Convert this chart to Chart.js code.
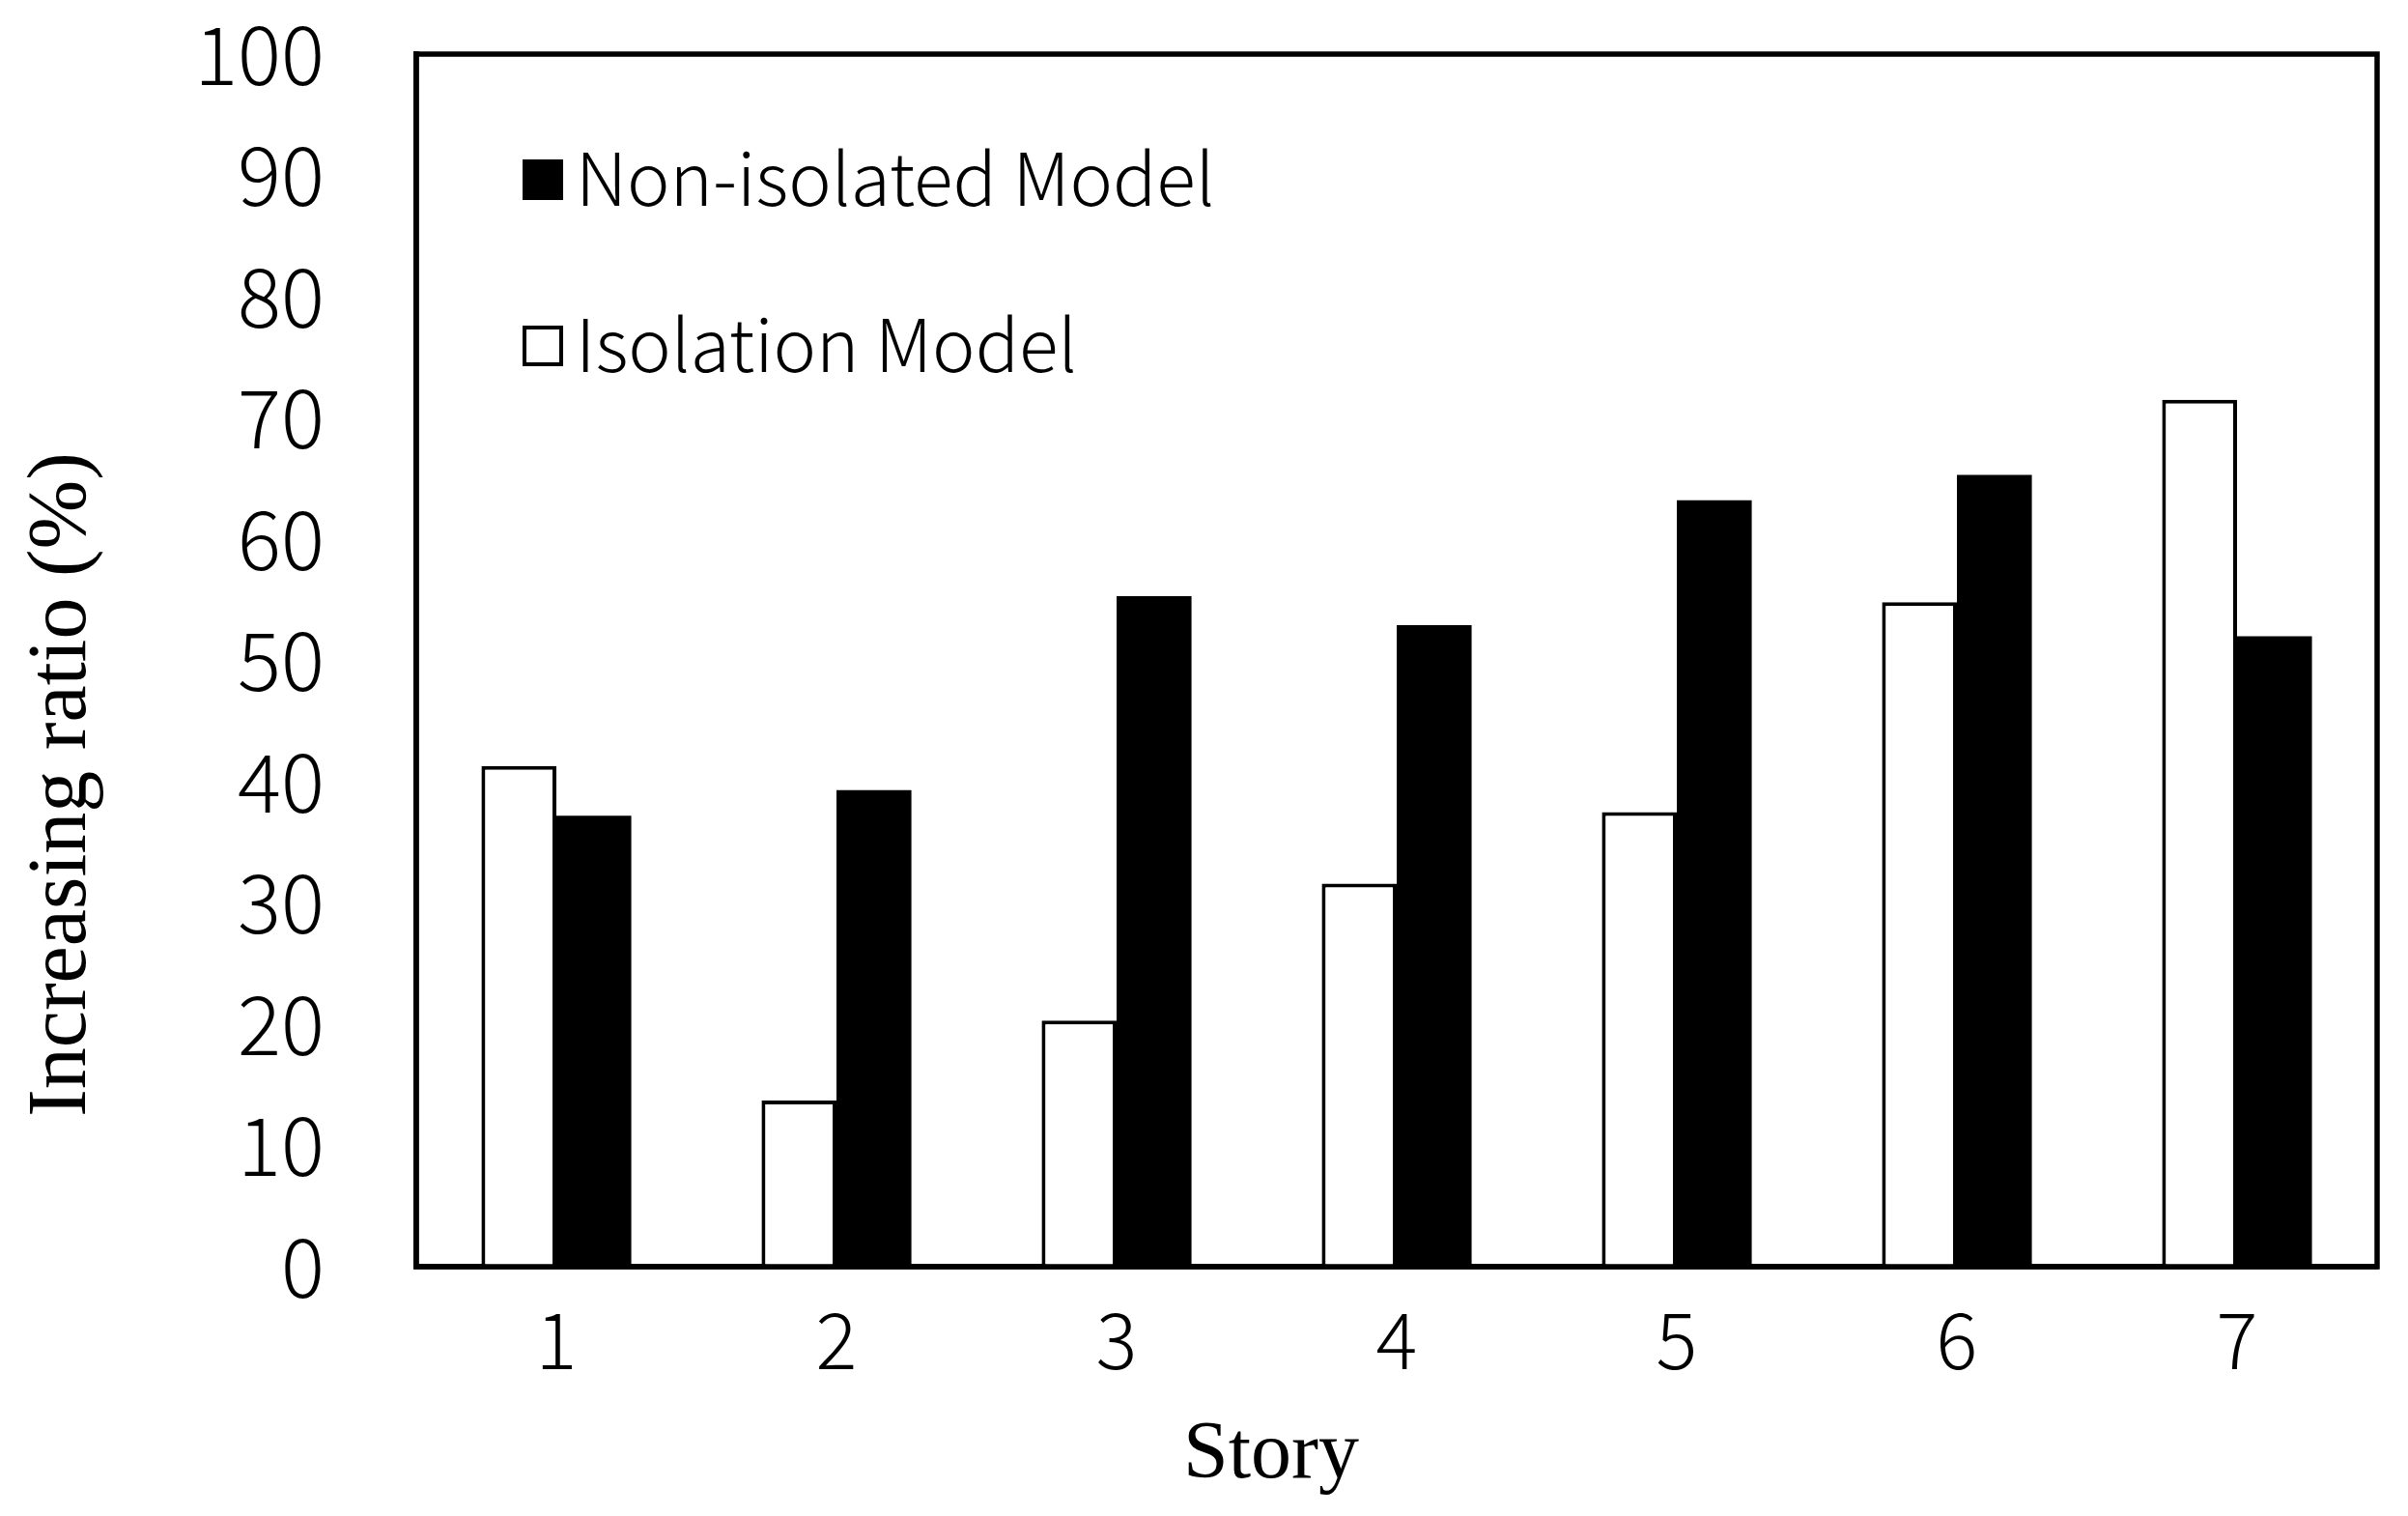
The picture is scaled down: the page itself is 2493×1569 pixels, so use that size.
<!DOCTYPE html>
<html>
<head>
<meta charset="utf-8">
<script src="https://cdn.jsdelivr.net/npm/chart.js@4/dist/chart.umd.min.js"></script>
<style>
  html, body { margin: 0; padding: 0; background: #ffffff; }
  #wrap { width: 2493px; height: 1569px; }
</style>
</head>
<body>
<div id="wrap"><canvas id="c" width="2493" height="1569"></canvas></div>
<script>
// ---- data ----
const categories = ['1', '2', '3', '4', '5', '6', '7'];
const isolationModel = [41.3, 13.7, 20.3, 31.6, 37.5, 54.8, 71.5];
const nonIsolatedModel = [37.2, 39.3, 55.3, 52.9, 63.2, 65.3, 52.0];
const seriesNames = ['Isolation Model', 'Non-isolated Model'];
const xTitle = 'Story';
const yTitle = 'Increasing ratio (%)';
const yMin = 0, yMax = 100, yStep = 10;

const tickFont = "'Noto Sans CJK SC', 'Noto Sans', sans-serif";
const titleFont = "'Liberation Serif', 'Times New Roman', serif";

// frame (box around the plot area)
const framePlugin = {
  id: 'frame',
  afterDraw(chart) {
    const {ctx, chartArea: a} = chart;
    ctx.save();
    ctx.strokeStyle = '#000';
    ctx.lineWidth = 5.5;
    ctx.strokeRect(a.left, a.top, a.right - a.left, a.bottom - a.top);
    ctx.restore();
  }
};

// legend drawn inside plot area, order reversed (Non-isolated first)
const legendPlugin = {
  id: 'innerLegend',
  afterDraw(chart) {
    const {ctx, chartArea: a} = chart;
    const ds = chart.data.datasets.slice().reverse();
    const rowsY = [186, 358];
    ctx.save();
    ds.forEach((d, i) => {
      const cy = rowsY[i];
      const x0 = a.left + 110, sz = 42;
      ctx.fillStyle = d.backgroundColor;
      ctx.fillRect(x0, cy - sz / 2, sz, sz);
      ctx.strokeStyle = '#000';
      ctx.lineWidth = 4;
      ctx.strokeRect(x0 + 2, cy - sz / 2 + 2, sz - 4, sz - 4);
      ctx.fillStyle = '#000';
      ctx.font = "300 75px " + tickFont;
      ctx.textBaseline = 'middle';
      ctx.textAlign = 'left';
      ctx.fillText(d.label, a.left + 165, cy - 2);
    });
    ctx.restore();
  }
};

// axis titles
const axisTitlePlugin = {
  id: 'axisTitles',
  afterDraw(chart) {
    const {ctx} = chart;
    ctx.save();
    ctx.fillStyle = '#000';
    ctx.font = "84px " + titleFont;
    ctx.textAlign = 'center';
    ctx.textBaseline = 'alphabetic';
    ctx.fillText(xTitle, 1316, 1529);
    ctx.translate(88, 812);
    ctx.rotate(-Math.PI / 2);
    ctx.font = "86px " + titleFont;
    ctx.fillText(yTitle, 0, 0);
    ctx.restore();
  }
};

new Chart(document.getElementById('c'), {
  type: 'bar',
  data: {
    labels: categories,
    datasets: [
      {
        label: seriesNames[0],
        data: isolationModel,
        backgroundColor: '#ffffff',
        borderColor: '#000000',
        borderWidth: 4
      },
      {
        label: seriesNames[1],
        data: nonIsolatedModel,
        backgroundColor: '#000000',
        borderColor: '#000000',
        borderWidth: 0
      }
    ]
  },
  options: {
    responsive: false,
    animation: false,
    devicePixelRatio: 1,
    layout: { padding: { left: 0, right: 32, top: 56, bottom: 0 } },
    datasets: { bar: { categoryPercentage: 0.535, barPercentage: 1.0 } },
    plugins: {
      legend: { display: false },
      tooltip: { enabled: false },
      title: { display: false }
    },
    scales: {
      x: {
        grid: { display: false, drawTicks: false },
        border: { display: true, color: '#000', width: 5.5 },
        ticks: { color: '#000', font: { family: tickFont, size: 80, weight: '300' }, padding: 28 },
        afterFit(scale) {
          scale.height = 1569 - 1311;
          scale.paddingLeft = 0; scale.paddingRight = 0;
        }
      },
      y: {
        min: yMin, max: yMax,
        grid: { display: false, drawTicks: false },
        border: { display: true, color: '#000', width: 5.5 },
        ticks: { stepSize: yStep, color: '#000', font: { family: tickFont, size: 84, weight: '300' }, padding: 95 },
        afterFit(scale) {
          scale.width = 431;
          scale.paddingTop = 0; scale.paddingBottom = 0;
        }
      }
    }
  },
  plugins: [framePlugin, legendPlugin, axisTitlePlugin]
});
</script>
</body>
</html>
